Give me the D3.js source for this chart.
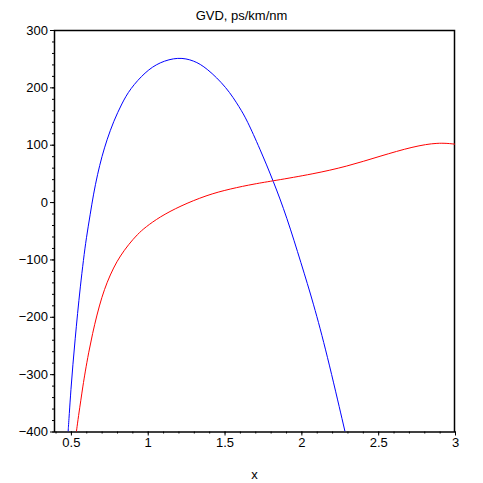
<!DOCTYPE html>
<html>
<head>
<meta charset="utf-8">
<script src="https://cdn.jsdelivr.net/npm/d3@7"></script>
<style>
  body { margin: 0; background: #fff; }
  svg text { font-family: "Liberation Sans", Arial, sans-serif; }
</style>
</head>
<body>
<div id="chart"></div>
<script>
// GVD curves
const blueX = [0.482, 0.489, 0.500, 0.513, 0.528, 0.543, 0.561, 0.582, 0.600, 0.626, 0.647, 0.673, 0.702, 0.735, 0.778, 0.832, 0.884, 0.984, 1.077, 1.199, 1.30, 1.383, 1.514, 1.60, 1.644, 1.73, 1.817, 1.904, 2.0, 2.078, 2.165, 2.284];
const blueY = [-400, -371, -327, -283, -238, -195, -148, -100, -63, -21, 14, 48, 80, 109, 141, 172, 197, 227, 244, 253, 247, 234, 200, 164, 144, 93, 37, -25, -108, -176, -263, -400];

const redX = [0.536, 0.55, 0.565, 0.578, 0.593, 0.615, 0.641, 0.669, 0.702, 0.735, 0.778, 0.821, 0.875, 0.934, 0.984, 1.077, 1.21, 1.383, 1.535, 1.70, 1.817, 2.077, 2.295, 2.512, 2.729, 2.891, 3.0];
const redY = [-400, -372, -345, -321, -296, -263, -229, -197, -165, -140, -114, -94, -74, -56, -44, -26, -7, 12, 23, 32, 37, 49, 62, 80, 97, 104, 101];

const xTicks = [0.5, 1, 1.5, 2, 2.5, 3];
const xTickLabels = ["0.5", "1", "1.5", "2", "2.5", "3"];
const yTicks = [-400, -300, -200, -100, 0, 100, 200, 300];

const width = 483, height = 483;
const margin = {top: 30, right: 28, bottom: 51.5, left: 54};

const svg = d3.select("#chart").append("svg")
  .attr("width", width)
  .attr("height", height);

const x = d3.scaleLinear().domain([0.39, 3]).range([margin.left, width - margin.right]);
const y = d3.scaleLinear().domain([-400, 300]).range([height - margin.bottom, margin.top]);

svg.append("defs").append("clipPath").attr("id", "clip")
  .append("rect")
  .attr("x", margin.left).attr("y", margin.top)
  .attr("width", x.range()[1] - margin.left)
  .attr("height", y.range()[0] - margin.top);

// minor ticks
svg.append("g")
  .attr("transform", `translate(0,${y.range()[0]})`)
  .call(d3.axisBottom(x).tickValues(d3.range(4, 31).map(d => d / 10)).tickSize(2).tickSizeOuter(0).tickFormat(""))
  .call(g => g.select(".domain").remove());
svg.append("g")
  .attr("transform", `translate(${margin.left},0)`)
  .call(d3.axisLeft(y).tickValues(d3.range(-400, 301, 20)).tickSize(2).tickSizeOuter(0).tickFormat(""))
  .call(g => g.select(".domain").remove());

// major ticks
const xAxis = svg.append("g")
  .attr("transform", `translate(0,${y.range()[0]})`)
  .call(d3.axisBottom(x).tickValues(xTicks).tickSize(4).tickPadding(2).tickSizeOuter(0)
    .tickFormat((d, i) => xTickLabels[i]));
const yAxis = svg.append("g")
  .attr("transform", `translate(${margin.left},0)`)
  .call(d3.axisLeft(y).tickValues(yTicks).tickSize(4).tickPadding(2).tickSizeOuter(0));

[xAxis, yAxis].forEach(g => {
  g.selectAll("text").attr("font-size", 13).attr("font-family", "Liberation Sans, Arial, sans-serif").attr("fill", "#000");
  g.select(".domain").remove();
});

// frame
svg.append("rect")
  .attr("x", margin.left + 0.5).attr("y", margin.top + 0.5)
  .attr("width", x.range()[1] - margin.left - 1)
  .attr("height", y.range()[0] - margin.top)
  .attr("fill", "none")
  .attr("stroke", "#000")
  .attr("stroke-width", 1.5);

const line = d3.line().x(d => x(d[0])).y(d => y(d[1])).curve(d3.curveBasis);

const plot = svg.append("g").attr("clip-path", "url(#clip)");
plot.append("path")
  .datum(blueX.map((v, i) => [v, blueY[i]]))
  .attr("d", line)
  .attr("fill", "none")
  .attr("stroke", "#0000ff")
  .attr("stroke-width", 1);
plot.append("path")
  .datum(redX.map((v, i) => [v, redY[i]]))
  .attr("d", line)
  .attr("fill", "none")
  .attr("stroke", "#ff0000")
  .attr("stroke-width", 1);

svg.append("text")
  .attr("x", width / 2).attr("y", 19.5)
  .attr("text-anchor", "middle")
  .attr("font-size", 13)
  .text("GVD, ps/km/nm");

svg.append("text")
  .attr("x", x.range()[0] + (x.range()[1] - x.range()[0]) / 2).attr("y", 479)
  .attr("text-anchor", "middle")
  .attr("font-size", 13)
  .text("x");
</script>
</body>
</html>
